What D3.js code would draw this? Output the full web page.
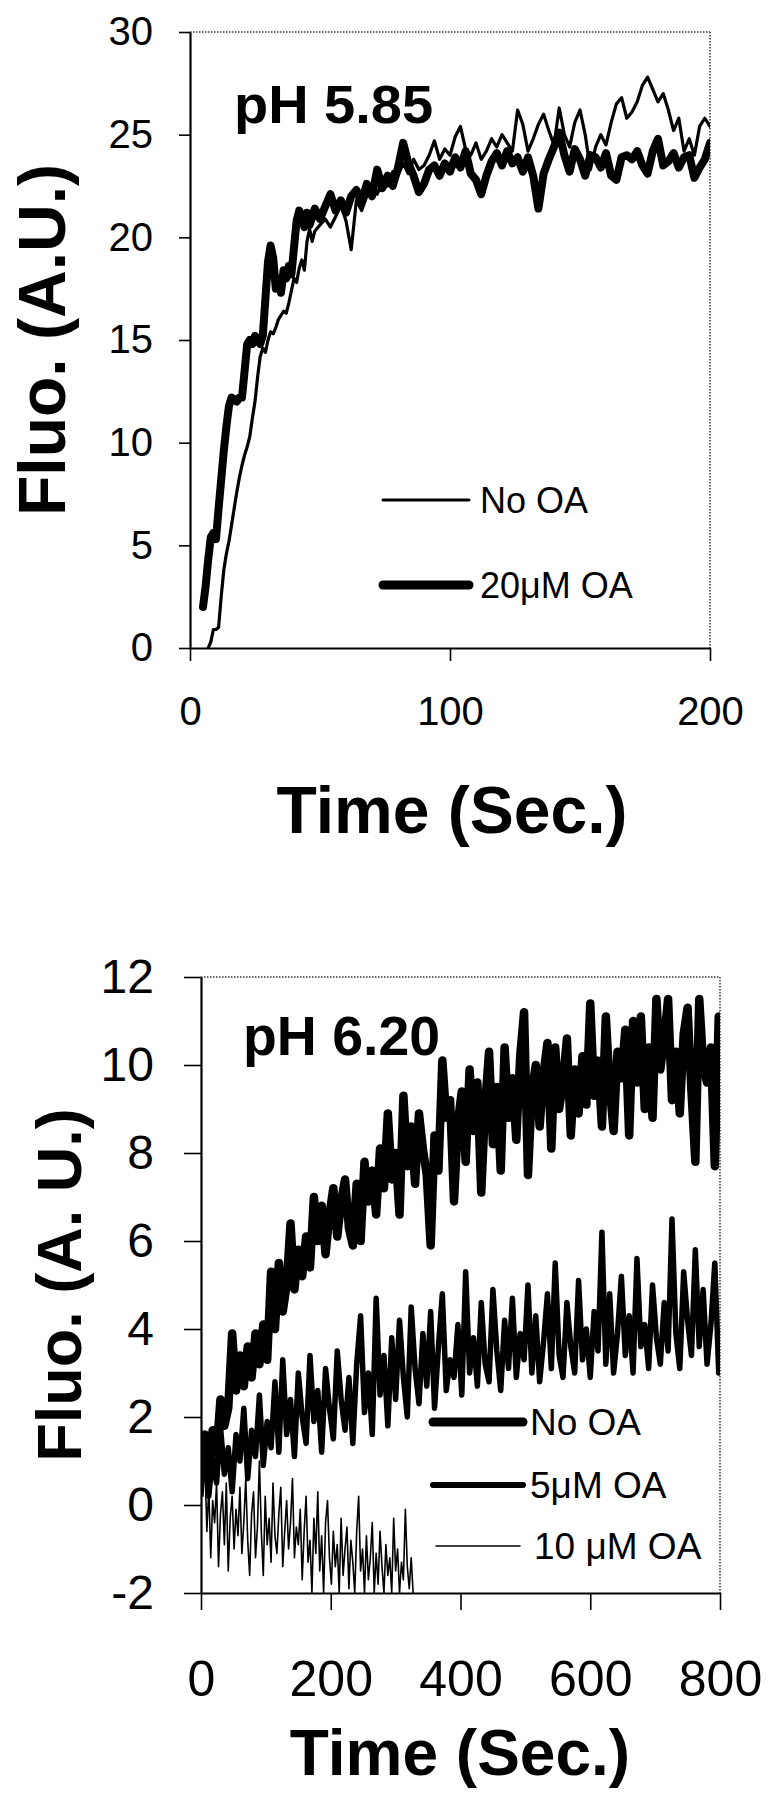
<!DOCTYPE html>
<html>
<head>
<meta charset="utf-8">
<script src="https://cdnjs.cloudflare.com/ajax/libs/d3/7.8.5/d3.min.js"></script>
<style>
  body { margin: 0; background: #fff; }
  svg { display: block; font-family: "Liberation Sans", Arial, Helvetica, sans-serif; }
</style>
</head>
<body>
<div id="chart"></div>
<script>
// ---- pH 5.85 panel ----
var ph585_xTicks = [0, 100, 200];
var ph585_yTicks = [0, 5, 10, 15, 20, 25, 30];

var ph585_time_noOA = [7, 8, 9, 10, 11, 12, 13, 14, 15, 16, 17, 18, 19, 20, 21, 22, 23, 24, 25, 26,
  27, 28, 29, 30, 31, 32, 33, 34, 35, 36, 37, 38, 39, 40, 41, 42, 43, 44, 45, 46, 47,
  48, 50, 52, 54, 56, 58, 60, 62, 64, 66, 68, 70, 72, 74, 76, 78, 80, 82, 84, 86, 88, 90, 92, 94, 96, 98,
  100, 102, 104, 106, 108, 110, 112, 114, 116, 118, 120, 122, 124, 126, 128, 130, 132, 134, 136, 138,
  140, 142, 144, 146, 148, 150, 152, 154, 156, 158, 160, 162, 164, 166, 168, 170, 172, 174, 176, 178,
  180, 182, 184, 186, 188, 190, 192, 194, 196, 198, 200];
var ph585_noOA = [0, 0.3, 0.9, 0.9, 1.0, 2.5, 3.8, 4.6, 5.2, 6.0, 6.8, 7.6, 8.3, 8.9, 9.4, 9.8, 10.3, 11.2, 12.0, 13.2,
  14.2, 14.6, 14.4, 15.0, 15.4, 15.3, 15.6, 16.0, 16.2, 16.4, 16.3, 16.8, 17.4, 18.0, 17.8, 18.5, 18.9, 18.4, 19.8, 20.4, 19.8,
  20.3, 20.6, 20.9, 20.5, 21.0, 21.6, 20.8, 19.4, 21.8, 21.3, 22.0, 22.4, 22.1, 22.7, 22.5, 23.2, 23.0, 23.6, 23.1, 23.8, 23.3, 23.5, 24.0, 24.7, 23.8, 24.3,
  24.0, 24.9, 25.4, 24.3, 24.0, 24.6, 23.8, 24.2, 24.8, 24.4, 25.0, 24.6, 24.2, 26.2, 25.5, 24.2, 24.8, 25.5, 26.0, 25.2,
  24.5, 26.3, 25.0, 24.4, 25.6, 26.2, 25.0, 23.3, 24.4, 25.0, 24.5, 25.6, 26.5, 26.8, 25.8, 26.1, 26.6, 27.4, 27.8, 27.2,
  26.6, 27.0, 26.2, 25.2, 25.8, 24.2, 24.8, 24.0, 25.4, 25.8, 25.4];

var ph585_time_20uM = [5, 6, 7, 8, 9, 10, 11, 12, 13, 14, 15, 16, 17, 18, 19, 20, 21, 22, 23, 24, 25,
  26, 27, 28, 29, 30, 31, 32, 33, 34, 35, 36, 37, 38, 39, 40, 41, 42, 43, 44, 45, 46,
  48, 50, 52, 54, 56, 58, 60, 62, 64, 66, 68, 70, 72, 74, 76, 78, 80, 82, 84, 86, 88, 90, 92, 94, 96, 98,
  100, 102, 104, 106, 108, 110, 112, 114, 116, 118, 120, 122, 124, 126, 128, 130, 132, 134, 136, 138,
  140, 142, 144, 146, 148, 150, 152, 154, 156, 158, 160, 162, 164, 166, 168, 170, 172, 174, 176, 178,
  180, 182, 184, 186, 188, 190, 192, 194, 196, 198, 200];
var ph585_20uM = [2.0, 3.0, 4.3, 5.4, 5.6, 5.3, 6.8, 8.2, 9.6, 10.8, 11.8, 12.2, 12.1, 12.0, 12.2, 12.2, 13.5, 14.8, 15.0, 14.8, 15.2,
  15.0, 14.8, 15.2, 17.0, 18.8, 19.6, 19.0, 17.5, 18.0, 17.3, 18.4, 18.0, 18.6, 18.2, 19.5, 20.8, 21.3, 21.0, 20.5, 21.2, 20.6,
  21.4, 20.9, 21.5, 22.1, 21.3, 21.8, 21.2, 22.0, 22.3, 21.7, 22.6, 22.0, 23.3, 22.4, 23.0, 22.5, 23.4, 24.6, 23.6, 23.0, 22.2, 22.6, 23.3, 23.5, 23.0, 23.6,
  23.2, 23.9, 23.4, 24.2, 23.1, 22.8, 22.1, 23.0, 23.7, 24.1, 23.5, 24.2, 23.6, 23.9, 23.2, 23.9, 23.0, 21.4, 23.1, 23.8,
  24.4, 25.1, 24.0, 23.2, 24.3, 23.8, 23.0, 24.0, 23.9, 23.4, 24.1, 23.0, 22.8, 23.9, 24.0, 23.8, 24.2, 23.5, 23.1, 24.2,
  24.8, 23.5, 23.7, 24.1, 23.4, 23.9, 24.0, 22.9, 23.4, 23.8, 24.6];

// ---- pH 6.20 panel (one reading every few seconds) ----
var ph620_xTicks = [0, 200, 400, 600, 800];
var ph620_yTicks = [-2, 0, 2, 4, 6, 8, 10, 12];
var ph620_step = 6;
var ph620_noOA = [0.8, 1.6, 0.9, 1.7, 1.2, 2.4, 1.8, 2.2, 3.9, 2.6,
  3.4, 2.7, 3.6, 2.9, 3.9, 3.2, 4.1, 3.3, 5.3, 4.0,
  5.5, 4.4, 5.0, 6.4, 4.9, 5.8, 5.2, 6.1, 5.4, 7.0,
  6.0, 6.8, 5.7, 6.6, 7.2, 6.1, 6.9, 7.4, 6.3, 5.9,
  7.3, 6.0, 7.8, 6.9, 7.6, 6.6, 8.1, 7.2, 8.9, 7.4,
  8.0, 6.6, 9.3, 7.7, 8.6, 7.3, 8.9, 8.1, 7.5, 5.9,
  8.4, 7.6, 10.1, 8.8, 9.2, 6.9, 8.7, 9.4, 7.8, 9.9,
  8.5, 9.6, 7.1, 9.1, 10.3, 8.2, 9.5, 7.6, 10.4, 8.8,
  9.7, 8.3, 10.2, 11.2, 7.5, 9.4, 10.0, 8.6, 9.8, 10.5,
  8.1, 10.4, 9.0, 9.6, 10.6, 8.4, 9.9, 8.9, 10.2, 9.1,
  11.4, 9.3, 10.1, 8.6, 11.1, 9.5, 8.5, 10.3, 9.7, 10.8,
  8.4, 11.0, 9.6, 11.1, 9.0, 10.4, 8.8, 11.5, 9.9, 10.6,
  11.5, 9.2, 10.3, 8.9, 10.7, 11.3, 9.4, 7.8, 11.5, 10.0,
  9.6, 10.4, 7.7, 11.1];
var ph620_5uM = [0.6, 1.4, 0.2, 1.1, 0.5, 1.8, 0.7, 1.3, 0.3, 1.6,
  1.0, 2.2, 0.6, 1.7, 1.1, 2.5, 0.9, 1.9, 1.3, 2.8,
  1.2, 3.3, 1.6, 2.4, 1.1, 3.0, 2.0, 1.4, 3.4, 1.9,
  2.6, 1.2, 3.1, 2.2, 1.5, 3.5, 2.4, 1.7, 2.9, 1.4,
  3.2, 4.3, 2.1, 3.0, 1.6, 4.7, 2.5, 3.4, 1.8, 3.8,
  2.4, 4.2, 2.9, 2.0, 4.5, 3.1, 2.3, 3.9, 2.7, 4.4,
  2.2, 3.6, 4.8, 2.6, 3.3, 2.9, 4.1, 2.5, 5.3, 3.0,
  3.8, 2.7, 4.6, 3.2, 2.8, 4.9, 3.5, 2.6, 4.2, 3.1,
  4.7, 2.9, 3.9, 3.3, 5.0, 3.0, 4.3, 2.8, 3.7, 4.8,
  3.1, 5.5, 3.4, 2.9, 4.6, 3.6, 3.0, 5.1, 3.3, 4.0,
  2.9, 4.4, 3.5, 6.2, 3.2, 4.8, 3.0, 3.9, 5.2, 3.4,
  4.3, 3.0, 5.6, 3.6, 4.1, 3.1, 5.0, 3.8, 3.2, 4.6,
  3.5, 6.5, 3.9, 3.1, 5.3, 4.2, 3.4, 5.8, 3.6, 4.9,
  3.2, 4.1, 5.5, 3.0];
var ph620_10uM_step = 3;
var ph620_10uM = [0.8, 0.2, 1.0, -0.6, 0.4, -1.2, 0.1, -0.4, 0.5, -1.4,
  -0.2, 0.3, -0.9, 0.5, -1.5, -0.3, 0.2, -1.0, -0.1, -0.7,
  0.4, -1.1, -0.4, 0.6, -0.8, -1.6, -0.2, 0.3, -1.2, -0.5,
  1.0, -0.6, -1.6, 0.2, -0.9, -0.3, -1.3, 0.5, -0.7, -1.1,
  -0.2, 0.4, -1.4, -0.6, 0.1, -1.0, -0.4, 0.6, -1.2, -0.5,
  -0.9, -0.1, -1.7, -0.6, 0.2, -1.3, -0.8, -2.0, -0.3, -1.1,
  0.3, -1.5, -0.7, -2.0, -0.4, 0.1, -1.2, -1.8, -0.6, -1.4,
  -0.9, -2.0, -0.3, -1.6, -1.0, -0.5, -1.9, -0.8, -1.3, -2.0,
  -0.6, 0.2, -1.5, -1.0, -2.0, -0.7, -1.7, -1.2, -0.4, -2.0,
  -1.1, -1.8, -0.6, -1.4, -2.0, -0.9, -1.6, -1.2, -2.0, -0.3,
  -1.5, -1.0, -2.0, -1.3, -1.7, -0.1, -1.4, -1.9, -1.2, -2.0];

var svg = d3.select("#chart")
  .append("svg")
  .attr("width", 772)
  .attr("height", 1800);

svg.append("rect").attr("width", 772).attr("height", 1800).attr("fill", "#fff");

// draws the box, axes and returns the plot group
function drawFrame(id, x, y, xTicks, yTicks, cfg) {
  var x0 = x.range()[0], x1 = x.range()[1];
  var yb = y.range()[0], yt = y.range()[1];

  svg.append("clipPath").attr("id", id)
    .append("rect")
    .attr("x", x0).attr("y", yt)
    .attr("width", x1 - x0).attr("height", yb - yt);

  // dotted top and right border
  svg.append("line")
    .attr("x1", x0).attr("x2", x1).attr("y1", yt).attr("y2", yt)
    .attr("stroke", "#666").attr("stroke-width", 2).attr("stroke-dasharray", "1.5,1.5");
  svg.append("line")
    .attr("x1", x1).attr("x2", x1).attr("y1", yt).attr("y2", yb)
    .attr("stroke", "#666").attr("stroke-width", 2).attr("stroke-dasharray", "1.5,1.5");

  // plain hyphen for negatives, like the original figure
  var fmt = function(d) { return String(d); };

  var yAxis = d3.axisLeft(y)
    .tickValues(yTicks)
    .tickFormat(fmt)
    .tickSize(cfg.yTick)
    .tickSizeOuter(0)
    .tickPadding(cfg.yPad);
  var gy = svg.append("g")
    .attr("transform", "translate(" + x0 + ",0)")
    .call(yAxis);

  var xAxis = d3.axisBottom(x)
    .tickValues(xTicks)
    .tickFormat(fmt)
    .tickSize(cfg.xTick)
    .tickSizeOuter(0)
    .tickPadding(cfg.xPad);
  var gx = svg.append("g")
    .attr("transform", "translate(0," + yb + ")")
    .call(xAxis);

  [gx, gy].forEach(function(g) {
    g.attr("font-size", null).attr("font-family", null);
    g.select(".domain").attr("stroke", "#000").attr("stroke-width", 2.2);
    g.selectAll(".tick line").attr("stroke", "#000").attr("stroke-width", 1.6);
    g.selectAll(".tick text").attr("fill", "#000");
  });
  gy.selectAll(".tick text").style("font-size", cfg.yFont + "px");
  gx.selectAll(".tick text").style("font-size", cfg.xFont + "px");

  return svg.append("g").attr("clip-path", "url(#" + id + ")");
}

function series(times, values) {
  return d3.zip(times, values);
}

// ---------- top panel ----------
var x1s = d3.scaleLinear().domain([0, 200]).range([190, 710]);
var y1s = d3.scaleLinear().domain([0, 30]).range([648, 32]);

var plot1 = drawFrame("clip1", x1s, y1s, ph585_xTicks, ph585_yTicks,
  {yTick: 11, yPad: 26, xTick: 13, xPad: 36, yFont: 40, xFont: 40});

var line1 = d3.line()
  .x(function(d) { return x1s(d[0]); })
  .y(function(d) { return y1s(d[1]); });

plot1.append("path")
  .attr("d", line1(series(ph585_time_20uM, ph585_20uM)))
  .attr("fill", "none").attr("stroke", "#000").attr("stroke-width", 8)
  .attr("stroke-linejoin", "round").attr("stroke-linecap", "round");

plot1.append("path")
  .attr("d", line1(series(ph585_time_noOA, ph585_noOA)))
  .attr("fill", "none").attr("stroke", "#000").attr("stroke-width", 3.2)
  .attr("stroke-linejoin", "round").attr("stroke-linecap", "round");

svg.append("text")
  .attr("x", 234).attr("y", 123)
  .attr("textLength", 199).attr("lengthAdjust", "spacingAndGlyphs")
  .style("font-size", "54px").style("font-weight", "bold")
  .text("pH 5.85");

// legend
var leg1 = [{label: "No OA", w: 3, y: 500}, {label: "20μM OA", w: 9, y: 585}];
leg1.forEach(function(d) {
  svg.append("line")
    .attr("x1", 383).attr("x2", 469).attr("y1", d.y).attr("y2", d.y)
    .attr("stroke", "#000").attr("stroke-width", d.w).attr("stroke-linecap", "round");
  svg.append("text")
    .attr("x", 480).attr("y", d.y + 13)
    .style("font-size", "36px")
    .text(d.label);
});

svg.append("text")
  .attr("x", 452).attr("y", 833)
  .attr("text-anchor", "middle")
  .style("font-size", "66px").style("font-weight", "bold")
  .text("Time (Sec.)");

svg.append("text")
  .attr("transform", "translate(65,340) rotate(-90)")
  .attr("text-anchor", "middle")
  .style("font-size", "66px").style("font-weight", "bold")
  .text("Fluo. (A.U.)");

// ---------- bottom panel ----------
var x2s = d3.scaleLinear().domain([0, 800]).range([201, 720]);
var y2s = d3.scaleLinear().domain([-2, 12]).range([1593, 977]);

var plot2 = drawFrame("clip2", x2s, y2s, ph620_xTicks, ph620_yTicks,
  {yTick: 17, yPad: 30, xTick: 17, xPad: 50, yFont: 48, xFont: 50});

var line2 = d3.line()
  .x(function(d) { return x2s(d[0]); })
  .y(function(d) { return y2s(d[1]); });

function timesFor(values, step) {
  return values.map(function(v, i) { return i * step; });
}

plot2.append("path")
  .attr("d", line2(series(timesFor(ph620_noOA, ph620_step), ph620_noOA)))
  .attr("fill", "none").attr("stroke", "#000").attr("stroke-width", 8.5)
  .attr("stroke-linejoin", "round").attr("stroke-linecap", "round");

plot2.append("path")
  .attr("d", line2(series(timesFor(ph620_5uM, ph620_step), ph620_5uM)))
  .attr("fill", "none").attr("stroke", "#000").attr("stroke-width", 5.5)
  .attr("stroke-linejoin", "round").attr("stroke-linecap", "round");

plot2.append("path")
  .attr("d", line2(series(timesFor(ph620_10uM, ph620_10uM_step), ph620_10uM)))
  .attr("fill", "none").attr("stroke", "#000").attr("stroke-width", 1.6)
  .attr("stroke-linejoin", "round");

svg.append("text")
  .attr("x", 243).attr("y", 1055)
  .attr("textLength", 197).attr("lengthAdjust", "spacingAndGlyphs")
  .style("font-size", "56px").style("font-weight", "bold")
  .text("pH 6.20");

var leg2 = [
  {label: "No OA", w: 9, y: 1422, x1: 433, x2: 523, tx: 530},
  {label: "5μM OA", w: 6, y: 1485, x1: 433, x2: 523, tx: 530},
  {label: "10 μM OA", w: 1.5, y: 1546, x1: 436, x2: 520, tx: 534}
];
leg2.forEach(function(d) {
  svg.append("line")
    .attr("x1", d.x1).attr("x2", d.x2).attr("y1", d.y).attr("y2", d.y)
    .attr("stroke", "#000").attr("stroke-width", d.w).attr("stroke-linecap", "round");
  svg.append("text")
    .attr("x", d.tx).attr("y", d.y + 13)
    .style("font-size", "37px")
    .text(d.label);
});

svg.append("text")
  .attr("x", 460).attr("y", 1775)
  .attr("text-anchor", "middle")
  .style("font-size", "64px").style("font-weight", "bold")
  .text("Time (Sec.)");

svg.append("text")
  .attr("transform", "translate(81,1285) rotate(-90)")
  .attr("text-anchor", "middle")
  .style("font-size", "63px").style("font-weight", "bold")
  .text("Fluo. (A. U.)");
</script>
</body>
</html>
